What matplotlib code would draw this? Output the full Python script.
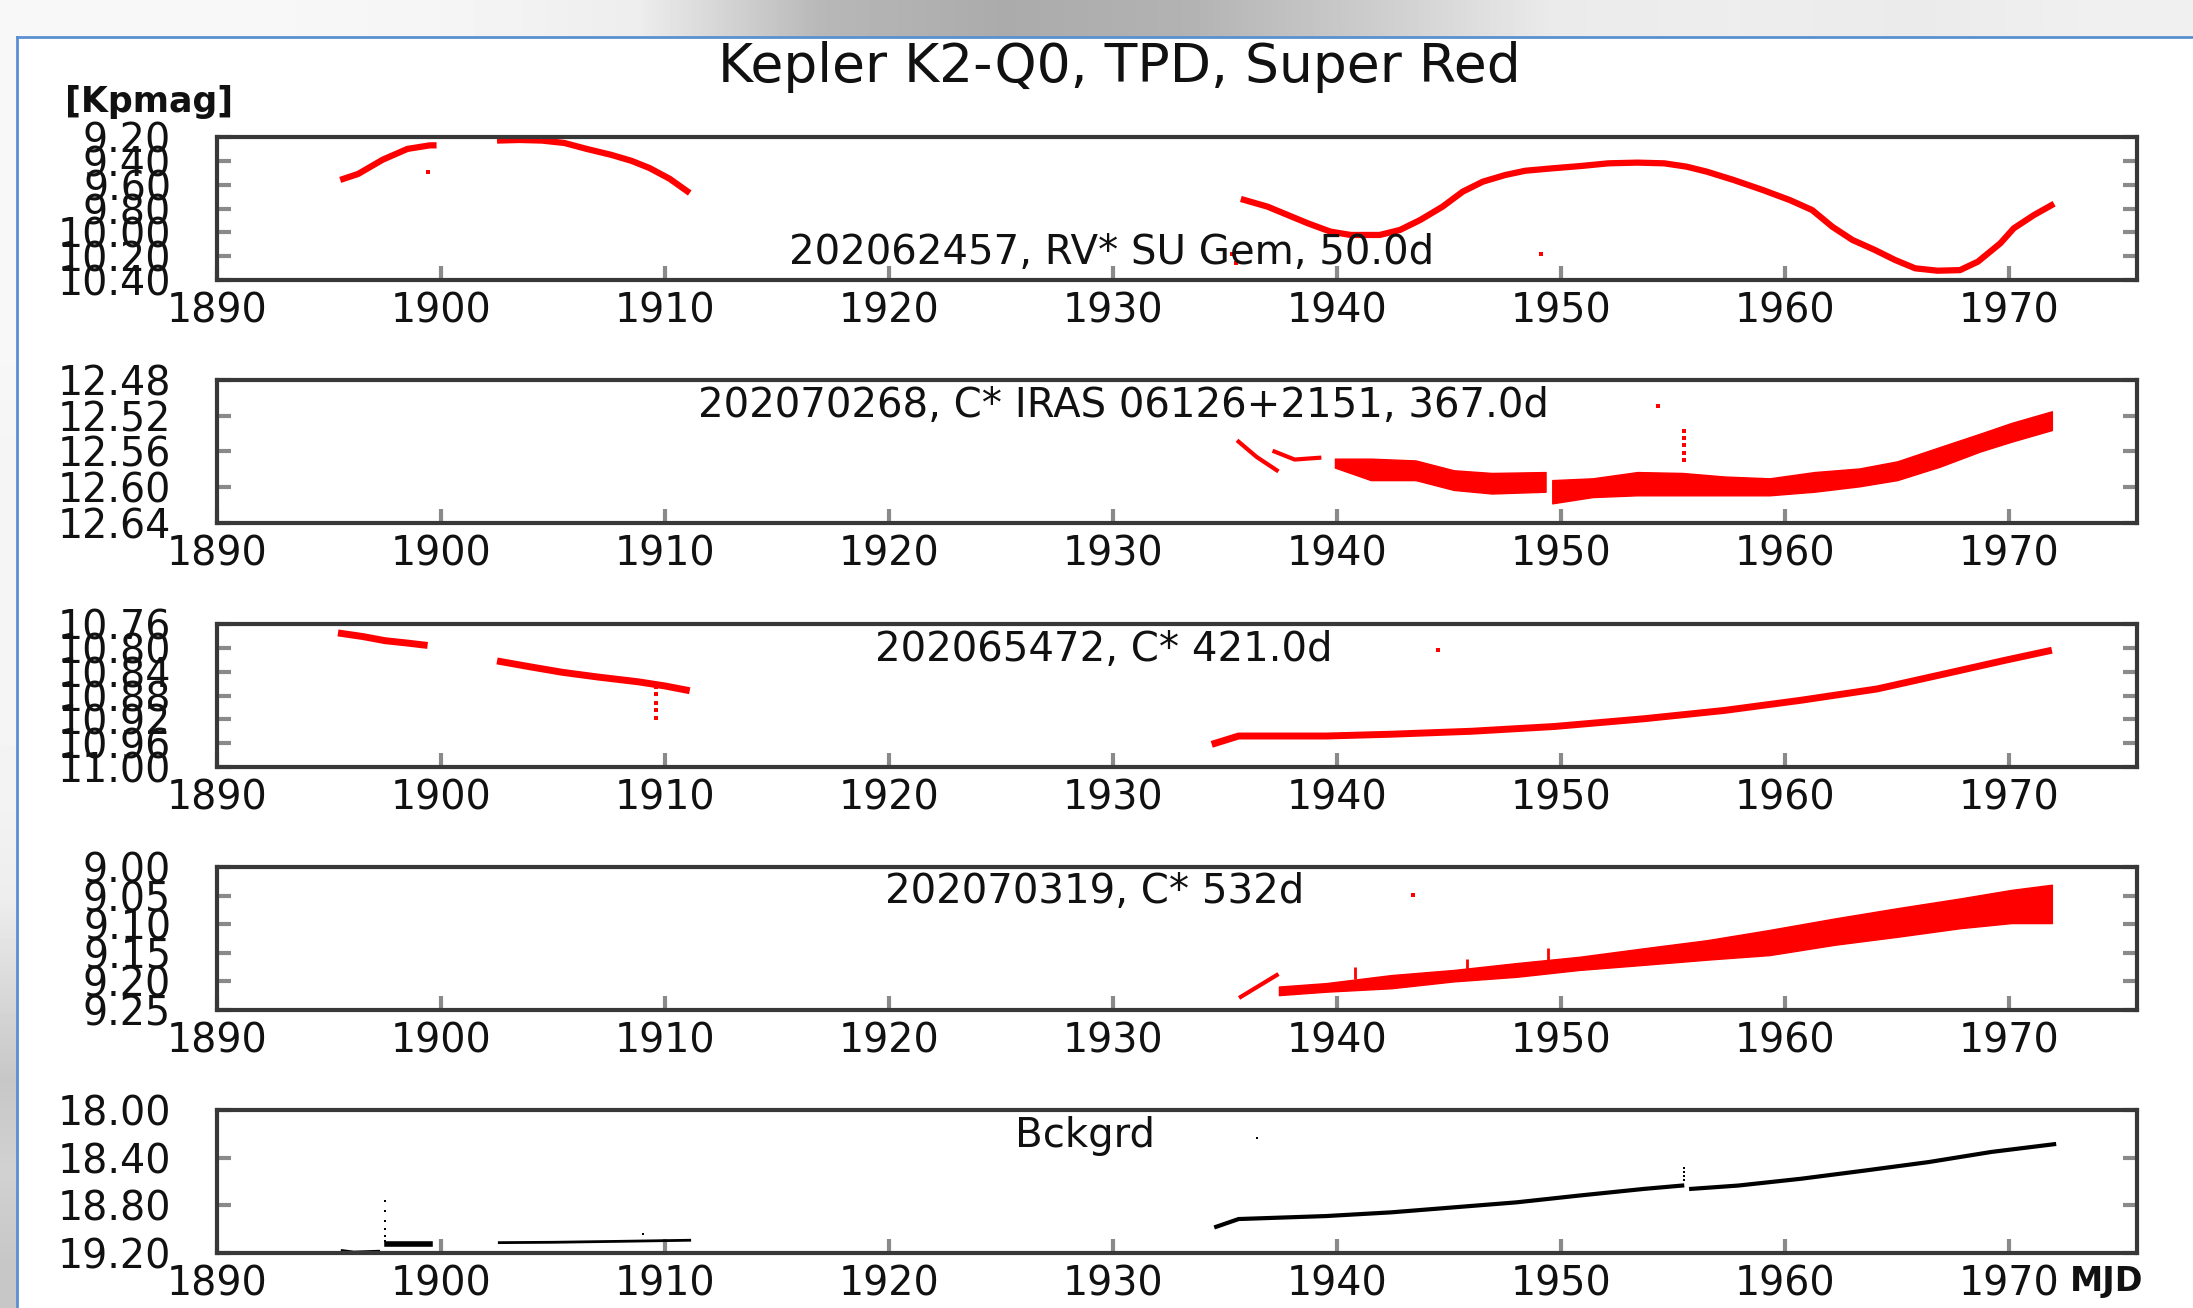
import matplotlib
matplotlib.use("Agg")
import matplotlib.pyplot as plt
import numpy as np

# ---- data (MJD offset axis, Kp magnitudes) ----
x_ticks = [1890, 1900, 1910, 1920, 1930, 1940, 1950, 1960, 1970]

# panel 1: 202062457, RV* SU Gem
p1_a_x = [1895.5, 1896.3, 1897.4, 1898.5, 1899.5, 1899.8]
p1_a_y = [9.56, 9.51, 9.39, 9.30, 9.27, 9.27]
p1_b_x = [1902.5, 1903.5, 1904.5, 1905.5, 1906.5, 1907.6, 1908.5, 1909.3, 1910.2, 1911.1]
p1_b_y = [9.23, 9.225, 9.23, 9.25, 9.30, 9.35, 9.40, 9.46, 9.55, 9.67]
p1_c_x = [1935.7, 1936.9, 1937.8, 1938.7, 1939.7, 1940.6, 1941.9, 1942.8, 1943.7,
          1944.7, 1945.6, 1946.5, 1947.5, 1948.4, 1949.6, 1950.9, 1952.1, 1953.4,
          1954.6, 1955.6, 1956.5, 1957.7, 1959.0, 1960.2, 1961.2, 1962.1, 1963.0,
          1964.0, 1964.9, 1965.8, 1966.8, 1967.8, 1968.6, 1969.6, 1970.2, 1971.1, 1972.0]
p1_c_y = [9.72, 9.785, 9.855, 9.925, 9.994, 10.022, 10.022, 9.980, 9.897,
          9.785, 9.659, 9.575, 9.519, 9.483, 9.463, 9.443, 9.421, 9.415,
          9.421, 9.449, 9.491, 9.561, 9.645, 9.729, 9.813, 9.953, 10.064,
          10.148, 10.232, 10.302, 10.322, 10.317, 10.246, 10.092, 9.966, 9.855, 9.76]
p1_dots_x = [1899.4, 1935.3, 1935.5, 1949.1]
p1_dots_y = [9.49, 10.18, 10.26, 10.18]

# panel 2: 202070268, C* IRAS 06126+2151
p2_a_x = [1935.6, 1936.4, 1937.3]
p2_a_y = [12.549, 12.566, 12.581]
p2_b_x = [1937.2, 1938.1, 1939.2]
p2_b_y = [12.560, 12.569, 12.567]
p2_band1_x = [1939.9, 1941.5, 1943.5, 1945.2, 1946.9, 1949.3]
p2_band1_lo = [12.568, 12.568, 12.570, 12.581, 12.584, 12.583]
p2_band1_hi = [12.578, 12.592, 12.592, 12.603, 12.607, 12.605]
p2_band2_x = [1949.6, 1951.4, 1953.4, 1955.4, 1957.3, 1959.3, 1961.3, 1963.3,
              1965.0, 1966.9, 1968.7, 1970.1, 1971.9]
p2_band2_lo = [12.592, 12.590, 12.583, 12.584, 12.588, 12.590, 12.583, 12.579,
               12.571, 12.555, 12.540, 12.528, 12.515]
p2_band2_hi = [12.618, 12.611, 12.609, 12.609, 12.609, 12.609, 12.605, 12.599,
               12.592, 12.577, 12.560, 12.549, 12.536]
p2_dots_x = [1954.3, 1955.5, 1955.5, 1955.5, 1955.5, 1955.5]
p2_dots_y = [12.509, 12.537, 12.545, 12.553, 12.562, 12.570]

# panel 3: 202065472, C*
p3_a_x = [1895.4, 1896.5, 1897.5, 1898.5, 1899.4]
p3_a_y = [10.775, 10.781, 10.788, 10.792, 10.796]
p3_b_x = [1902.5, 1904.0, 1905.4, 1907.0, 1908.8, 1910.0, 1911.1]
p3_b_y = [10.822, 10.832, 10.841, 10.849, 10.857, 10.864, 10.872]
p3_c_x = [1934.4, 1935.6, 1939.5, 1942.4, 1946.0, 1949.7, 1953.7, 1957.3,
          1960.7, 1964.1, 1967.2, 1969.8, 1971.9]
p3_c_y = [10.962, 10.948, 10.948, 10.945, 10.940, 10.932, 10.919, 10.905,
          10.888, 10.869, 10.843, 10.821, 10.804]
p3_dots_x = [1909.6, 1909.6, 1909.6, 1909.6, 1909.6, 1944.5]
p3_dots_y = [10.865, 10.878, 10.892, 10.905, 10.918, 10.804]

# panel 4: 202070319, C*
p4_a_x = [1935.7, 1936.5, 1937.3]
p4_a_y = [9.227, 9.208, 9.189]
p4_band_x = [1937.4, 1939.5, 1942.4, 1945.2, 1948.0, 1950.8, 1953.7, 1956.5,
             1959.3, 1962.2, 1965.0, 1967.8, 1970.1, 1971.9]
p4_band_lo = [9.209, 9.203, 9.189, 9.180, 9.168, 9.157, 9.142, 9.128,
              9.110, 9.090, 9.072, 9.055, 9.040, 9.031]
p4_band_hi = [9.224, 9.218, 9.212, 9.200, 9.192, 9.180, 9.171, 9.162,
              9.154, 9.136, 9.122, 9.107, 9.098, 9.098]
p4_spike_x = [1940.8, 1945.8, 1949.4]
p4_spike_top = [9.174, 9.160, 9.142]
p4_spike_base = [9.196, 9.178, 9.163]
p4_dots_x = [1943.4]
p4_dots_y = [9.049]

# panel 5: background
p5_a_x = [1895.6, 1896.1, 1897.2]
p5_a_y = [19.183, 19.195, 19.188]
p5_b_x = [1897.6, 1899.5]
p5_b_y = [19.127, 19.127]
p5_c_x = [1902.6, 1905.0, 1908.0, 1911.1]
p5_c_y = [19.113, 19.110, 19.102, 19.093]
p5_d_x = [1934.6, 1935.6, 1939.5, 1942.4, 1945.2, 1948.0, 1950.8, 1953.7, 1955.4]
p5_d_y = [18.980, 18.915, 18.89, 18.859, 18.817, 18.775, 18.718, 18.662, 18.634]
p5_e_x = [1955.8, 1957.9, 1960.7, 1963.6, 1966.4, 1969.2, 1972.0]
p5_e_y = [18.662, 18.634, 18.577, 18.507, 18.437, 18.352, 18.287]
p5_dots_x = [1897.5, 1897.5, 1897.5, 1897.5, 1897.5, 1897.5, 1909.0,
             1955.5, 1955.5, 1955.5, 1955.5, 1936.4]
p5_dots_y = [18.76, 18.85, 18.93, 19.00, 19.06, 19.10, 19.04,
             18.49, 18.52, 18.55, 18.59, 18.239]

# screenshot surroundings (grey levels)
top_shade = [0.97, 0.97, 0.96, 0.93, 0.72, 0.67, 0.70, 0.80, 0.92, 0.93, 0.92, 0.94]
left_shade = [0.97, 0.97, 0.97, 0.97, 0.96, 0.96, 0.96, 0.96, 0.95, 0.93, 0.85, 0.78, 0.82, 0.78]

W, H = 2193, 1308
fig = plt.figure(figsize=(W / 100, H / 100), dpi=100)
fig.patch.set_facecolor("white")

# window chrome behind the plot
bg = fig.add_axes([0, 0, 1, 1], zorder=-10)
bg.imshow(np.array([top_shade]), cmap="gray", vmin=0, vmax=1, aspect="auto",
          interpolation="bilinear", extent=(0, W, 37, 0))
bg.imshow(np.array([left_shade]).T, cmap="gray", vmin=0, vmax=1, aspect="auto",
          interpolation="bilinear", extent=(0, 17, H, 37))
bg.plot([17, W], [37, 37], color="#5b8fd0", lw=2)
bg.plot([17, 17], [37, H], color="#5b8fd0", lw=2)
bg.set_xlim(0, W)
bg.set_ylim(H, 0)
bg.axis("off")

left = 217 / W
width = 1920 / W
height = 143 / H
tops = [137, 380, 624, 867, 1110]

frame_color = "#383838"
tick_color = "#8a8a8a"
text_color = "#111111"


def setup_panel(ax, ylo, yhi, yticks, fmt):
    ax.set_xlim(1890, 1975.7)
    ax.set_ylim(yhi, ylo)
    ax.set_xticks(x_ticks)
    ax.set_xticklabels([str(t) for t in x_ticks])
    ax.set_yticks(yticks)
    ax.set_yticklabels([fmt % v for v in yticks])
    for s in ax.spines.values():
        s.set_linewidth(3)
        s.set_color(frame_color)
    ax.tick_params(axis="both", direction="in", length=10, width=3,
                   color=tick_color, labelsize=28.5, labelcolor=text_color)
    ax.tick_params(axis="x", pad=8, top=False)
    ax.tick_params(axis="y", pad=33, right=True)


axes = []
for t in tops:
    axes.append(fig.add_axes([left, 1 - (t + 143) / H, width, height]))
ax1, ax2, ax3, ax4, ax5 = axes

red = "#ff0000"
label_size = 29

# panel 1
setup_panel(ax1, 9.20, 10.40, [9.2, 9.4, 9.6, 9.8, 10.0, 10.2, 10.4], "%.2f")
ax1.plot(p1_a_x, p1_a_y, color=red, lw=4.5, solid_capstyle="butt")
ax1.plot(p1_b_x, p1_b_y, color=red, lw=4.5, solid_capstyle="butt")
ax1.plot(p1_c_x, p1_c_y, color=red, lw=4.5, solid_capstyle="butt")
ax1.plot(p1_dots_x, p1_dots_y, "s", color=red, ms=2.5, mew=0)
ax1.text(0.466, 0.19, "202062457, RV* SU Gem, 50.0d", transform=ax1.transAxes,
         ha="center", va="center", fontsize=label_size, color=text_color)

# panel 2
setup_panel(ax2, 12.48, 12.64, [12.48, 12.52, 12.56, 12.60, 12.64], "%.2f")
ax2.plot(p2_a_x, p2_a_y, color=red, lw=3)
ax2.plot(p2_b_x, p2_b_y, color=red, lw=3)
ax2.fill_between(p2_band1_x, p2_band1_lo, p2_band1_hi, color=red, lw=1)
ax2.fill_between(p2_band2_x, p2_band2_lo, p2_band2_hi, color=red, lw=1)
ax2.plot(p2_dots_x, p2_dots_y, "s", color=red, ms=2.5, mew=0)
ax2.text(0.472, 0.82, "202070268, C* IRAS 06126+2151, 367.0d", transform=ax2.transAxes,
         ha="center", va="center", fontsize=label_size, color=text_color)

# panel 3
setup_panel(ax3, 10.76, 11.00, [10.76, 10.80, 10.84, 10.88, 10.92, 10.96, 11.00], "%.2f")
ax3.plot(p3_a_x, p3_a_y, color=red, lw=5, solid_capstyle="butt")
ax3.plot(p3_b_x, p3_b_y, color=red, lw=5, solid_capstyle="butt")
ax3.plot(p3_c_x, p3_c_y, color=red, lw=5, solid_capstyle="butt")
ax3.plot(p3_dots_x, p3_dots_y, "s", color=red, ms=2.5, mew=0)
ax3.text(0.462, 0.82, "202065472, C* 421.0d", transform=ax3.transAxes,
         ha="center", va="center", fontsize=label_size, color=text_color)

# panel 4
setup_panel(ax4, 9.00, 9.25, [9.00, 9.05, 9.10, 9.15, 9.20, 9.25], "%.2f")
ax4.plot(p4_a_x, p4_a_y, color=red, lw=3)
ax4.fill_between(p4_band_x, p4_band_lo, p4_band_hi, color=red, lw=1)
ax4.vlines(p4_spike_x, p4_spike_top, p4_spike_base, color=red, lw=2)
ax4.plot(p4_dots_x, p4_dots_y, "s", color=red, ms=2.5, mew=0)
ax4.text(0.457, 0.825, "202070319, C* 532d", transform=ax4.transAxes,
         ha="center", va="center", fontsize=label_size, color=text_color)

# panel 5
setup_panel(ax5, 18.00, 19.20, [18.0, 18.4, 18.8, 19.2], "%.2f")
ax5.plot(p5_a_x, p5_a_y, color="black", lw=2.5)
ax5.plot(p5_b_x, p5_b_y, color="black", lw=4)
ax5.plot(p5_c_x, p5_c_y, color="black", lw=2)
ax5.plot(p5_d_x, p5_d_y, color="black", lw=3)
ax5.plot(p5_e_x, p5_e_y, color="black", lw=3)
ax5.plot(p5_dots_x, p5_dots_y, "s", color="black", ms=2, mew=0)
ax5.text(0.452, 0.82, "Bckgrd", transform=ax5.transAxes,
         ha="center", va="center", fontsize=label_size, color=text_color)

fig.text(1119 / W, 1 - 67 / H, "Kepler K2-Q0, TPD, Super Red", ha="center", va="center",
         fontsize=38.5, color=text_color)
fig.text(149 / W, 1 - 102 / H, "[Kpmag]", ha="center", va="center",
         fontsize=25, fontweight="bold", color=text_color)
fig.text(2107 / W, 1 - 1281 / H, "MJD", ha="center", va="center",
         fontsize=24, fontweight="bold", color=text_color)

fig.savefig("out.png", dpi=100)
plt.close(fig)
